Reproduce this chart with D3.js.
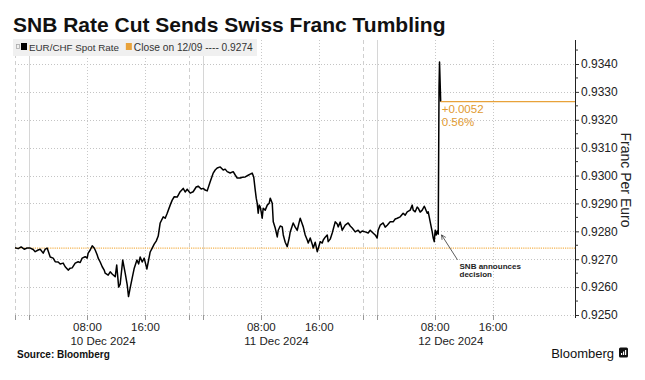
<!DOCTYPE html>
<html><head><meta charset="utf-8">
<script src="https://cdn.jsdelivr.net/npm/d3@7"></script>
<style>body{margin:0;background:#fff}svg{display:block}text{font-family:"Liberation Sans",Arial,sans-serif}</style>
</head><body><svg id="c" width="645" height="380"></svg>
<script>
const titleText = "SNB Rate Cut Sends Swiss Franc Tumbling";
const seriesName = "EUR/CHF Spot Rate";
const refLabel = "Close on 12/09 ---- 0.9274";
const refClose = 0.9274;
const changeLabels = ["+0.0052", "0.56%"];
const annotationLines = ["SNB announces", "decision"];
const yAxisTitle = "Franc Per Euro";
const sourceText = "Source: Bloomberg";
const brandText = "Bloomberg";
// hours relative to 10 Dec 2024 00:00 GMT
const hoursFromDec10 = [-2.0,-1.56,-1.15,-0.73,-0.32,0.10,0.51,0.79,1.20,1.48,1.89,2.17,2.44,2.86,3.27,3.55,3.96,4.24,4.65,4.93,5.34,5.62,5.89,6.31,6.72,7.00,7.27,7.69,7.96,8.10,8.38,8.66,8.93,9.07,9.35,9.48,9.76,10.04,10.31,10.45,10.86,11.14,11.41,11.83,12.04,12.31,12.52,12.87,13.21,13.49,13.67,13.90,14.18,14.46,14.83,15.07,15.28,15.56,15.83,16.21,16.39,16.66,16.94,17.21,17.49,17.77,18.04,18.46,18.73,19.01,19.42,19.70,19.98,20.39,20.80,21.22,21.49,21.77,22.18,22.59,23.01,23.29,23.70,23.98,24.25,24.53,24.94,25.22,25.36,25.63,25.91,26.33,26.74,27.01,27.29,27.70,28.12,28.40,28.67,29.09,29.37,29.78,30.19,30.47,30.74,30.95,31.16,31.30,31.43,31.57,31.71,31.85,31.99,32.12,32.26,32.54,32.82,33.09,33.23,33.51,33.65,33.92,34.20,34.34,34.61,34.89,35.03,35.30,35.58,35.85,35.99,36.40,36.68,36.96,37.23,37.37,37.65,37.79,38.06,38.34,38.48,38.75,39.03,39.17,39.44,39.72,40.00,40.13,40.41,40.55,40.82,41.10,41.23,41.51,41.79,42.20,42.48,42.61,42.89,43.17,43.58,43.99,44.27,44.55,44.96,45.37,45.65,45.92,46.34,46.75,47.03,47.31,47.72,47.99,48.13,48.41,48.82,49.10,49.38,49.79,50.20,50.48,50.76,51.17,51.58,51.86,52.14,52.55,52.83,52.97,53.24,53.52,53.66,53.93,54.21,54.49,54.62,54.90,55.04,55.32,55.45,55.59,55.73,55.87,56.00,56.14,56.28,56.42,56.53,56.60,56.76];
const spotRate = [0.92741,0.92738,0.92744,0.92736,0.92740,0.92740,0.92735,0.92727,0.92733,0.92736,0.92722,0.92736,0.92740,0.92708,0.92704,0.92691,0.92690,0.92683,0.92686,0.92673,0.92661,0.92668,0.92669,0.92686,0.92691,0.92688,0.92704,0.92709,0.92704,0.92722,0.92733,0.92748,0.92740,0.92733,0.92715,0.92704,0.92690,0.92673,0.92661,0.92650,0.92643,0.92655,0.92647,0.92637,0.92679,0.92600,0.92611,0.92697,0.92650,0.92608,0.92566,0.92597,0.92633,0.92668,0.92697,0.92683,0.92708,0.92690,0.92704,0.92665,0.92690,0.92726,0.92740,0.92754,0.92765,0.92783,0.92830,0.92852,0.92847,0.92865,0.92894,0.92912,0.92924,0.92923,0.92942,0.92954,0.92941,0.92951,0.92937,0.92942,0.92959,0.92962,0.92952,0.92954,0.92948,0.92945,0.92978,0.92998,0.93009,0.93020,0.93027,0.93031,0.93020,0.93023,0.93014,0.93009,0.93014,0.93002,0.92991,0.92991,0.92994,0.92995,0.93001,0.93005,0.93009,0.92995,0.92948,0.92919,0.92901,0.92865,0.92894,0.92888,0.92869,0.92847,0.92883,0.92876,0.92894,0.92901,0.92919,0.92901,0.92834,0.92812,0.92780,0.92804,0.92819,0.92816,0.92787,0.92761,0.92745,0.92776,0.92798,0.92830,0.92815,0.92804,0.92833,0.92847,0.92826,0.92816,0.92787,0.92769,0.92758,0.92776,0.92754,0.92740,0.92761,0.92727,0.92751,0.92763,0.92758,0.92769,0.92779,0.92787,0.92763,0.92772,0.92794,0.92834,0.92826,0.92816,0.92833,0.92804,0.92822,0.92830,0.92819,0.92812,0.92798,0.92804,0.92795,0.92801,0.92798,0.92794,0.92804,0.92797,0.92787,0.92776,0.92804,0.92822,0.92830,0.92815,0.92822,0.92834,0.92834,0.92844,0.92847,0.92852,0.92865,0.92858,0.92870,0.92876,0.92894,0.92876,0.92870,0.92887,0.92883,0.92869,0.92876,0.92890,0.92883,0.92865,0.92870,0.92833,0.92816,0.92798,0.92776,0.92763,0.92804,0.92787,0.92801,0.92790,0.93315,0.93407,0.93265];
const yTicks = [0.9250,0.9260,0.9270,0.9280,0.9290,0.9300,0.9310,0.9320,0.9330,0.9340];
const dayLabels = ["10 Dec 2024","11 Dec 2024","12 Dec 2024"];
const hourLabels = ["08:00","16:00"];
const midnightHours = [0,24,48];
const intradayHours = [8,16,32,40,56,64];
const sessionHours = [-2,22,46];

const base = Date.UTC(2024,11,10);
const toDate = h => new Date(base + h*3600e3);
const data = hoursFromDec10.map((h,i)=>({t:toDate(h), v:spotRate[i]}));

const svg = d3.select("#c");
const x = d3.scaleUtc().domain([toDate(-2), toDate(75.3)]).range([15,575]);
const y = d3.scaleLinear().domain([0.925,0.934]).range([315,64]);
const plotTop = 40, plotBottom = 318;
const orange = "#e8a23a";

// horizontal grid
svg.append("g").selectAll("line").data(yTicks).join("line")
  .attr("x1",15).attr("x2",575).attr("y1",d=>Math.round(y(d))+0.5).attr("y2",d=>Math.round(y(d))+0.5)
  .attr("stroke","#c4c4c4").attr("stroke-dasharray","1,2");
// vertical grids
const vg = svg.append("g");
vg.selectAll(".m").data(midnightHours).join("line")
  .attr("x1",d=>Math.round(x(toDate(d)))+0.5).attr("x2",d=>Math.round(x(toDate(d)))+0.5)
  .attr("y1",plotTop).attr("y2",plotBottom).attr("stroke","#d6d6d6");
vg.selectAll(".i").data(intradayHours).join("line")
  .attr("x1",d=>Math.round(x(toDate(d)))+0.5).attr("x2",d=>Math.round(x(toDate(d)))+0.5)
  .attr("y1",plotTop).attr("y2",plotBottom).attr("stroke","#c8c8c8").attr("stroke-dasharray","1,2");
vg.selectAll(".s").data(sessionHours).join("line")
  .attr("x1",d=>Math.round(x(toDate(d)))+0.5).attr("x2",d=>Math.round(x(toDate(d)))+0.5)
  .attr("y1",plotTop).attr("y2",plotBottom).attr("stroke","#cfcfcf").attr("stroke-dasharray","4,3");
// bottom tick marks
vg.selectAll(".bt").data([...sessionHours,...midnightHours,...intradayHours]).join("line")
  .attr("x1",d=>Math.round(x(toDate(d)))+0.5).attr("x2",d=>Math.round(x(toDate(d)))+0.5)
  .attr("y1",315).attr("y2",320).attr("stroke","#999");

// reference close line
svg.append("line").attr("x1",15).attr("x2",575).attr("y1",y(refClose)).attr("y2",y(refClose))
  .attr("stroke","#f3b34f").attr("stroke-width",1.2).attr("stroke-dasharray","1.2,1");

// series
svg.append("path").datum(data).attr("fill","none").attr("stroke","#000").attr("stroke-width",1.5)
  .attr("stroke-linejoin","round")
  .attr("d", d3.line().x(d=>x(d.t)).y(d=>y(d.v)));

// last value line
const last = data[data.length-1];
svg.append("line").attr("x1",x(last.t)).attr("x2",575).attr("y1",y(last.v)).attr("y2",y(last.v))
  .attr("stroke",orange).attr("stroke-width",1.2);
svg.append("g").selectAll("text").data(changeLabels).join("text")
  .attr("x",x(last.t)+1).attr("y",(d,i)=>y(last.v)+11+i*13)
  .attr("font-size",11.5).attr("fill","#df9a2f").text(d=>d);

// right axis
const ax = svg.append("g").attr("transform","translate(575,0)")
  .call(d3.axisRight(y).tickValues(yTicks).tickFormat(d3.format(".4f")).tickSize(4).tickPadding(2));
ax.select(".domain").remove();
ax.selectAll("line").attr("stroke","#333");
ax.selectAll("text").attr("font-size",12).attr("fill","#222").attr("font-family","Liberation Sans, Arial, sans-serif");
svg.append("line").attr("x1",575.5).attr("x2",575.5).attr("y1",plotTop).attr("y2",plotBottom).attr("stroke","#222");
const minor = d3.range(0.9250,0.93451,0.0005).filter(v=>Math.round(v*1e4)%10!==0);
svg.append("g").selectAll("line").data(minor).join("line")
  .attr("x1",575).attr("x2",578).attr("y1",d=>y(d)).attr("y2",d=>y(d)).attr("stroke","#333");

// y axis title
svg.append("text").attr("transform","translate(621,180) rotate(90)").attr("text-anchor","middle")
  .attr("font-size",14).attr("fill","#222").text(yAxisTitle);

// x labels
const xl = svg.append("g");
dayLabels.forEach((lab,i)=>{
  hourLabels.forEach((hl,j)=>{
    xl.append("text").attr("x",x(toDate(i*24+8+j*8))).attr("y",331).attr("text-anchor","middle")
      .attr("font-size",11.5).attr("fill","#222").text(hl);
  });
  xl.append("text").attr("x",x(toDate(i*24+8))-17).attr("y",345)
    .attr("font-size",11.5).attr("fill","#222").text(lab);
});

// title
svg.append("text").attr("x",13).attr("y",32).attr("font-size",21).attr("font-weight","bold")
  .attr("fill","#111").text(titleText);

// legend
svg.append("rect").attr("x",13).attr("y",39).attr("width",244).attr("height",17).attr("fill","#f0f0f0");
svg.append("rect").attr("x",16.5).attr("y",44.5).attr("width",3).attr("height",4).attr("fill","none").attr("stroke","#aaa").attr("stroke-width",0.8);
svg.append("rect").attr("x",21).attr("y",43).attr("width",6).attr("height",7).attr("fill","#000");
const t1 = svg.append("text").attr("x",29).attr("y",51).attr("font-size",9.8).attr("fill","#333").text(seriesName);
const t1end = 29 + t1.node().getComputedTextLength();
svg.append("rect").attr("x",t1end+7).attr("y",43).attr("width",6).attr("height",7).attr("fill",orange);
svg.append("text").attr("x",t1end+15).attr("y",51).attr("font-size",10.2).attr("fill","#333").text(refLabel);

// annotation
const annT = toDate(56.6), annV = 0.92755;
svg.append("defs").append("marker").attr("id","arr").attr("viewBox","0 0 10 10").attr("refX",9).attr("refY",5)
  .attr("markerWidth",7).attr("markerHeight",7).attr("orient","auto-start-reverse")
  .append("path").attr("d","M1,1 L9,5 L1,9").attr("fill","none").attr("stroke","#333").attr("stroke-width",1.2);
svg.append("line").attr("x1",x(annT)+18).attr("y1",y(annV)+16).attr("x2",x(annT)+2).attr("y2",y(annV)-9)
  .attr("stroke","#333").attr("stroke-width",0.8).attr("marker-end","url(#arr)");
svg.append("g").selectAll("text").data(annotationLines).join("text")
  .attr("x",x(annT)+20).attr("y",(d,i)=>y(annV)+25+i*8.5).attr("font-size",8).attr("font-weight","bold")
  .attr("fill","#222").text(d=>d);

// footer
svg.append("text").attr("x",17).attr("y",358).attr("font-size",10).attr("font-weight","bold").attr("fill","#111").text(sourceText);
svg.append("text").attr("x",614).attr("y",358).attr("text-anchor","end").attr("font-size",13).attr("fill","#111")
  .attr("font-family","Inter, Liberation Sans, sans-serif").attr("font-weight",500).text(brandText);
svg.append("rect").attr("x",619).attr("y",347.5).attr("width",9).attr("height",10).attr("rx",1.5).attr("fill","#111");
svg.append("g").selectAll("rect").data([2,3.5,5]).join("rect")
  .attr("x",(d,i)=>621+i*2).attr("y",d=>355-d).attr("width",1.2).attr("height",d=>d).attr("fill","#fff");
</script></body></html>
